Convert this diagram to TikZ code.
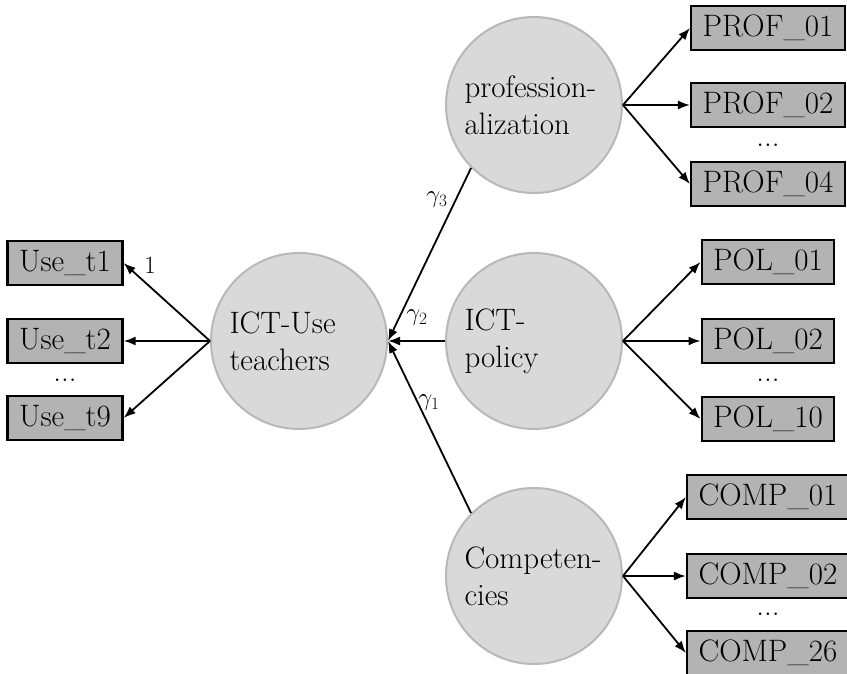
\documentclass[tikz,border=0pt]{standalone}
\usetikzlibrary{arrows.meta}
\definecolor{latentfill}{RGB}{217,217,217}
\definecolor{latentline}{RGB}{184,184,184}
\definecolor{itemfill}{RGB}{179,179,179}
\begin{document}
\begin{tikzpicture}[x=1pt,y=-1pt,
  every node/.style={font=\fontsize{31}{37.2}\selectfont},
  latent/.style={circle, fill=latentfill, draw=latentline, line width=2pt,
    minimum size=176pt, inner sep=0pt, text width=139pt, align=left},
  item/.style={rectangle, fill=itemfill, draw=black, line width=2.4pt,
    minimum height=44pt, inner xsep=11.5pt, inner ysep=0pt},
  dotsnode/.style={inner sep=0pt},
  coef/.style={font=\fontsize{24.8}{30}\selectfont, inner sep=0pt},
  path/.style={line width=1.8pt, -{Latex[length=12pt,width=9pt]}}
]
\useasboundingbox (0,0) rectangle (847,674);

% latent variables
\node[latent] (U)   at (299,341) {ICT-Use\\teachers};
\node[latent] (P)   at (534,105) {profession-\\alization};
\node[latent] (Pol) at (534,341) {ICT-\\policy};
\node[latent] (C)   at (534,576) {Competen-\\cies};

% indicators of ICT-Use
\node[item] (u1) at (65,263) {Use\_t1};
\node[item] (u2) at (65,341) {Use\_t2};
\node[dotsnode] (ud) at (65,380) {...};
\node[item] (u9) at (65,418) {Use\_t9};

% indicators of professionalization
\node[item] (p1) at (768,28) {PROF\_01};
\node[item] (p2) at (768,105) {PROF\_02};
\node[dotsnode] (pd) at (768,145) {...};
\node[item] (p4) at (768,184) {PROF\_04};

% indicators of ICT-policy
\node[item] (q1) at (768,262) {POL\_01};
\node[item] (q2) at (768,341) {POL\_02};
\node[dotsnode] (qd) at (768,380) {...};
\node[item] (q10) at (768,419) {POL\_10};

% indicators of competencies
\node[item] (c1) at (768,497) {COMP\_01};
\node[item] (c2) at (768,576) {COMP\_02};
\node[dotsnode] (cd) at (768,614) {...};
\node[item] (c26) at (768,653) {COMP\_26};

% loadings
\draw[path] (U.west) -- (u1.east);
\draw[path] (U.west) -- (u2.east);
\draw[path] (U.west) -- (u9.east);
\foreach \t in {p1,p2,p4} \draw[path] (P.east) -- (\t.west);
\foreach \t in {q1,q2,q10} \draw[path] (Pol.east) -- (\t.west);
\foreach \t in {c1,c2,c26} \draw[path] (C.east) -- (\t.west);

% structural paths
\draw[path] (P.south west) -- (U.east);
\draw[path] (Pol.west) -- (U.east);
\draw[path] (C.north west) -- (U.east);

% coefficients
\node[coef] (l1) at (150,265) {1};
\node[coef] (g3) at (437,200) {$\gamma_3$};
\node[coef] (g2) at (417,318) {$\gamma_2$};
\node[coef] (g1) at (429,403) {$\gamma_1$};
\end{tikzpicture}
\end{document}
